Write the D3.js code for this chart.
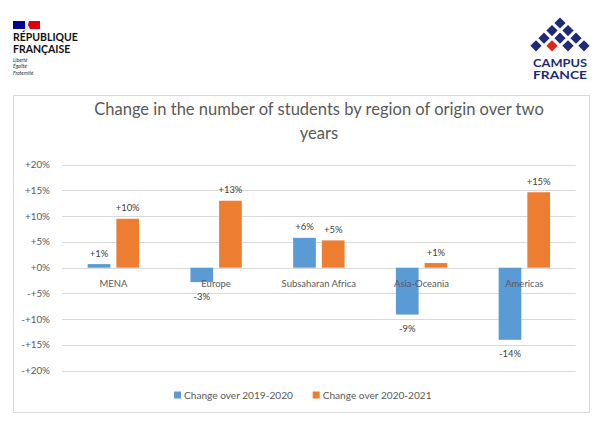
<!DOCTYPE html>
<html><head><meta charset="utf-8">
<script src="https://cdn.jsdelivr.net/npm/d3@7"></script>
<style>
html,body{margin:0;padding:0;background:#fff;}
svg{display:block;font-family:Lato, "Open Sans", sans-serif;}
</style></head>
<body>
<svg id="chart" width="607" height="435"></svg>
<script>
const categories = ["MENA", "Europe", "Subsaharan Africa", "Asia-Oceania", "Americas"];
const seriesNames = ["Change over 2019-2020", "Change over 2020-2021"];
const values2019_2020 = [0.7, -2.8, 5.8, -9.1, -14.0];
const values2020_2021 = [9.5, 13.0, 5.3, 0.9, 14.65];
const tickValues = [20, 15, 10, 5, 0, -5, -10, -15, -20];
const tickLabels = ["+20%", "+15%", "+10%", "+5%", "+0%", "-+5%", "-+10%", "-+15%", "-+20%"];
const titleLines = ["Change in the number of students by region of origin over two", "years"];
const colors = ["#5b9bd5", "#ed7d31"];

const svg = d3.select("#chart");

// fit a text element's font-size to a target width
function fitSize(sel, target, base) {
  sel.attr("font-size", base);
  const w = sel.node().getComputedTextLength();
  return base * target / w;
}

// ---- logos ----
const rf = svg.append("g");
rf.append("rect").attr("x", 13).attr("y", 21).attr("width", 12).attr("height", 8).attr("fill", "#000091");
rf.append("rect").attr("x", 28).attr("y", 21).attr("width", 12).attr("height", 8).attr("fill", "#e1000f");
rf.append("path").attr("d", "M25,21 L29,21 L28,25 L30,29 L25,29 Z").attr("fill", "#e8e8ef");
const rp = rf.append("text").text("RÉPUBLIQUE").attr("x", 13).attr("y", 41).attr("font-weight", "bold").attr("fill", "#111");
rp.attr("font-size", fitSize(rp, 65, 11));
const fr = rf.append("text").text("FRANÇAISE").attr("x", 13).attr("y", 52.5).attr("font-weight", "bold").attr("fill", "#111");
fr.attr("font-size", rp.attr("font-size"));
["Liberté", "Égalité", "Fraternité"].forEach((t, i) => {
  rf.append("text").text(t).attr("x", 13).attr("y", 62 + i * 6.3).attr("font-size", 5).attr("font-style", "italic").attr("fill", "#333");
});

const cf = svg.append("g");
const dx = 16, dy = 7.6, cx0 = 560, cy0 = 23, hd = 5.6;
for (let r = 0; r < 4; r++) {
  for (let k = 0; k <= r; k++) {
    const cx = cx0 + (k - r / 2) * dx;
    const cy = cy0 + r * dy;
    const red = (r === 3 && k === 1);
    cf.append("path")
      .attr("d", `M${cx},${cy - hd} L${cx + hd},${cy} L${cx},${cy + hd} L${cx - hd},${cy} Z`)
      .attr("fill", red ? "#e2231a" : "#1e2a78");
  }
}
["CAMPUS", "FRANCE"].forEach((t, i) => {
  cf.append("text").text(t).attr("x", 533).attr("y", 67 + i * 11.5)
    .attr("font-weight", "bold").attr("fill", "#1e2a78").attr("font-size", 11.5)
    .attr("textLength", 54).attr("lengthAdjust", "spacingAndGlyphs");
});

// ---- chart frame ----
svg.append("rect").attr("x", 13.5).attr("y", 95.5).attr("width", 576).attr("height", 317)
  .attr("fill", "#fff").attr("stroke", "#d9d9d9").attr("stroke-width", 1);

// title
const t1 = svg.append("text").text(titleLines[0]).attr("x", 319).attr("y", 115).attr("text-anchor", "middle").attr("fill", "#595959");
const tsize = fitSize(t1, 450, 16);
t1.attr("font-size", tsize);
svg.append("text").text(titleLines[1]).attr("x", 319).attr("y", 139).attr("text-anchor", "middle").attr("fill", "#595959").attr("font-size", tsize);

// scales
const x0 = d3.scaleBand().domain(categories).range([62, 575.7]).padding(0);
const x1 = d3.scaleBand().domain(seriesNames).range([0, x0.bandwidth() / 2]).paddingInner(0.209).paddingOuter(0);
const y = d3.scaleLinear().domain([-20, 20]).range([370.7, 164.7]);

// gridlines
svg.append("g").selectAll("line").data(tickValues).join("line")
  .attr("x1", 62).attr("x2", 575.7)
  .attr("y1", d => Math.round(y(d)) + 0.5).attr("y2", d => Math.round(y(d)) + 0.5)
  .attr("stroke", "#d9d9d9").attr("stroke-width", 1);

// y tick labels
const tickG = svg.append("g");
const tl = tickG.selectAll("text").data(tickValues).join("text")
  .attr("x", 50).attr("y", d => y(d) + 3.5).attr("text-anchor", "end").attr("fill", "#595959")
  .text((d, i) => tickLabels[i]);
const tkSize = fitSize(d3.select(tl.nodes()[0]), 25, 10);
tl.attr("font-size", tkSize);

// bars
const data = categories.map((c, i) => ({ cat: c, vals: [values2019_2020[i], values2020_2021[i]] }));
const groups = svg.append("g").selectAll("g").data(data).join("g")
  .attr("transform", d => `translate(${x0(d.cat) + x0.bandwidth() / 4},0)`);
groups.selectAll("rect").data(d => d.vals.map((v, j) => ({ v, s: seriesNames[j], j }))).join("rect")
  .attr("x", d => x1(d.s)).attr("width", x1.bandwidth())
  .attr("y", d => y(Math.max(0, d.v))).attr("height", d => Math.abs(y(d.v) - y(0)))
  .attr("fill", d => colors[d.j]);

// value labels
const fmt = v => (v >= 0 ? "+" : "-") + Math.round(Math.abs(v)) + "%";
const vl = groups.selectAll("text").data(d => d.vals.map((v, j) => ({ v, s: seriesNames[j] }))).join("text")
  .attr("x", d => x1(d.s) + x1.bandwidth() / 2)
  .attr("y", d => d.v >= 0 ? y(d.v) - 7.5 : y(d.v) + 17.5)
  .attr("text-anchor", "middle").attr("fill", "#404040")
  .text(d => fmt(d.v));
const vlSize = fitSize(d3.select(vl.nodes()[3]), 24, 10);
vl.attr("font-size", vlSize);

// category labels
const cl = svg.append("g").selectAll("text").data(categories).join("text")
  .attr("x", d => x0(d) + x0.bandwidth() / 2).attr("y", 286.5)
  .attr("text-anchor", "middle").attr("fill", "#595959").text(d => d);
const clSize = fitSize(d3.select(cl.nodes()[0]), 28, 10.5);
cl.attr("font-size", clSize);

// legend
const lg = svg.append("g");
const legX = [174, 312.7];
seriesNames.forEach((s, j) => {
  lg.append("rect").attr("x", legX[j]).attr("y", 391.5).attr("width", 7).attr("height", 7).attr("fill", colors[j]);
  const t = lg.append("text").text(s).attr("x", legX[j] + 10).attr("y", 398.5).attr("fill", "#595959");
  t.attr("font-size", fitSize(t, 109, 10.5));
});
</script>
</body></html>
